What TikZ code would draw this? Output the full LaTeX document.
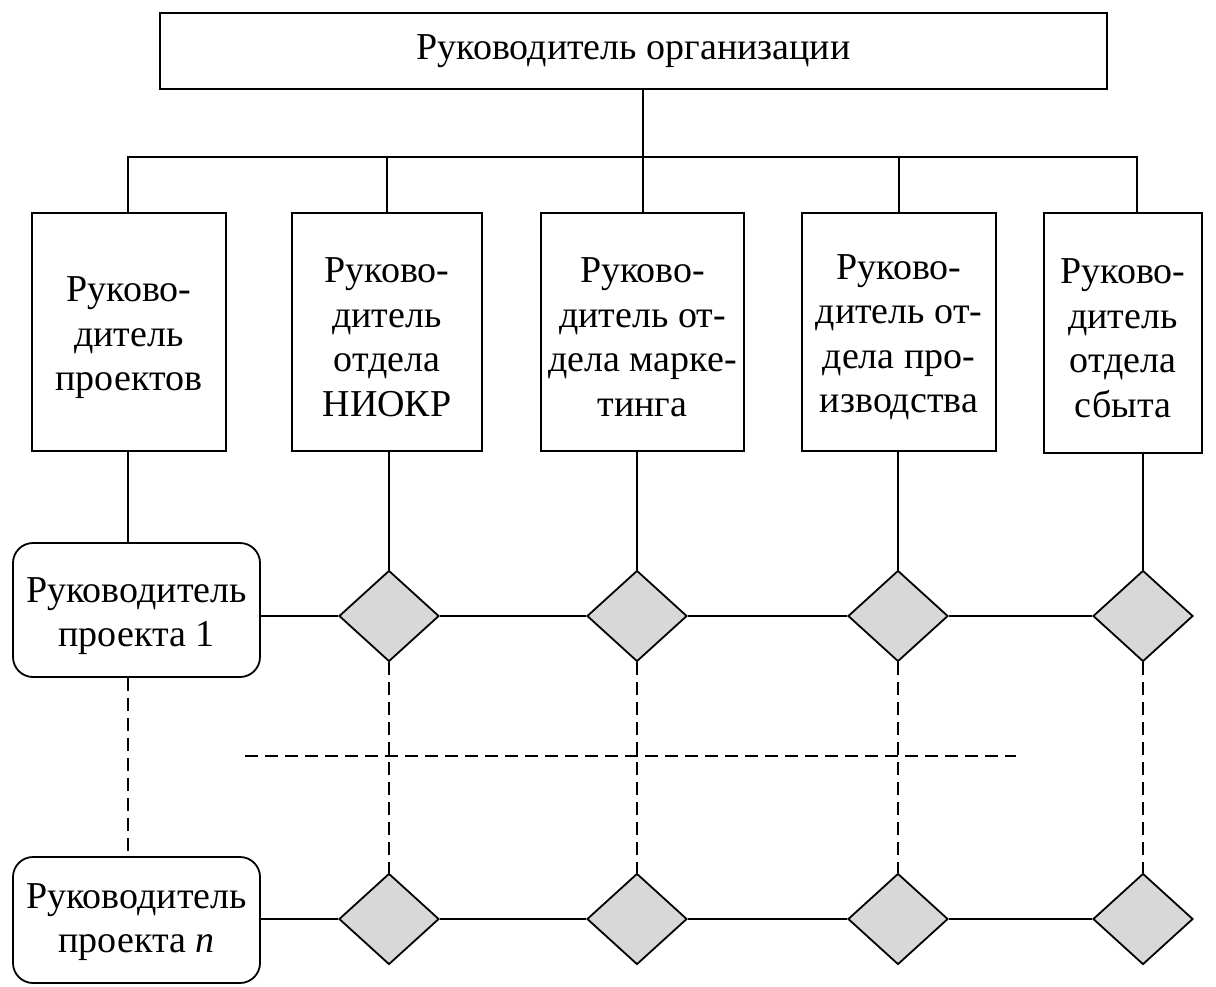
\documentclass[tikz,border=0pt]{standalone}
\usepackage{fontspec}
\setmainfont{Liberation Serif}
\usetikzlibrary{shapes.geometric}
\definecolor{dfill}{HTML}{D8D8D8}
\tikzset{
  frame/.style={draw=black, line width=1.8pt, inner sep=0pt},
  box/.style={frame, rectangle},
  rbox/.style={frame, rectangle, rounded corners=20pt},
  txt/.style={inner sep=0pt, align=center, font=\fontsize{38}{44.5}\selectfont},
  dia/.style={draw=black, line width=1.8pt, fill=dfill, diamond, inner sep=0pt,
    minimum width=100pt, minimum height=91pt},
  link/.style={line width=1.8pt},
  dlink/.style={line width=1.8pt, dash pattern=on 13pt off 7pt}
}
\begin{document}
\begin{tikzpicture}[x=1pt,y=-1pt]
\useasboundingbox (0,0) rectangle (1216,986);
% top
\node[box, txt, minimum width=947pt, minimum height=76pt] (top) at (633.5,51) {Руководитель организации};
% department boxes
\node[box, minimum width=194pt, minimum height=238pt] (b1) at (129,332) {};
\node[box, minimum width=190pt, minimum height=238pt] (b2) at (387,332) {};
\node[box, minimum width=203pt, minimum height=238pt] (b3) at (642.5,332) {};
\node[box, minimum width=194pt, minimum height=238pt] (b4) at (899,332) {};
\node[box, minimum width=158pt, minimum height=240pt] (b5) at (1123,333) {};
\node[txt] (b1t) at ([yshift=-6pt]b1.center) {Руково-\\дитель\\проектов};
\node[txt] (b2t) at ([yshift=-5pt]b2.center) {Руково-\\дитель\\отдела\\НИОКР};
\node[txt] (b3t) at ([yshift=-5pt]b3.center) {Руково-\\дитель от-\\дела марке-\\тинга};
\node[txt] (b4t) at ([yshift=-5pt]b4.center) {Руково-\\дитель от-\\дела про-\\изводства};
\node[txt] (b5t) at ([yshift=-5pt]b5.center) {Руково-\\дитель\\отдела\\сбыта};
% project managers
\node[rbox, minimum width=247pt, minimum height=134pt] (p1) at (136.5,610) {};
\node[rbox, minimum width=247pt, minimum height=126pt] (pn) at (136.5,920) {};
\node[txt] (p1t) at ([yshift=-6pt]p1.center) {Руководитель\\проекта 1};
\node[txt] (pnt) at ([yshift=-2pt]pn.center) {Руководитель\\проекта \textit{n}};
% diamonds
\node[dia] (d11) at (389,616) {};
\node[dia] (d12) at (637,616) {};
\node[dia] (d13) at (898,616) {};
\node[dia] (d14) at (1143,616) {};
\node[dia] (d21) at (389,919) {};
\node[dia] (d22) at (637,919) {};
\node[dia] (d23) at (898,919) {};
\node[dia] (d24) at (1143,919) {};
% helper coordinates
\coordinate (bus) at (0,157);
\coordinate (c1) at (128,0);
\coordinate (c3) at (643,0);
\coordinate (c5) at (1137,213);
\coordinate (hl) at (245,756);
\coordinate (hr) at (1016,756);
% upper tree
\draw[link] (c3 |- top.south) -- (c3 |- b3.north);
\draw[link] (c1 |- b1.north) -- (c1 |- bus) -- (c5 |- bus) -- (c5);
\draw[link] (b2.north) -- (b2.north |- bus);
\draw[link] (b4.north) -- (b4.north |- bus);
% down from boxes
\draw[link] (c1 |- b1.south) -- (c1 |- p1.north);
\draw[link] (d11.north |- b2.south) -- (d11.north);
\draw[link] (d12.north |- b3.south) -- (d12.north);
\draw[link] (d13.north |- b4.south) -- (d13.north);
\draw[link] (d14.north |- b5.south) -- (d14.north);
% horizontal rows
\draw[link] (p1.east |- d11) -- (d11.west);
\draw[link] (d11.east) -- (d12.west);
\draw[link] (d12.east) -- (d13.west);
\draw[link] (d13.east) -- (d14.west);
\draw[link] (pn.east |- d21) -- (d21.west);
\draw[link] (d21.east) -- (d22.west);
\draw[link] (d22.east) -- (d23.west);
\draw[link] (d23.east) -- (d24.west);
% dashed
\draw[dlink] (c1 |- p1.south) -- (c1 |- pn.north);
\draw[dlink] (d11.south) -- (d21.north);
\draw[dlink] (d12.south) -- (d22.north);
\draw[dlink] (d13.south) -- (d23.north);
\draw[dlink] (d14.south) -- (d24.north);
\draw[dlink] (hl) -- (hr);
\end{tikzpicture}
\end{document}
